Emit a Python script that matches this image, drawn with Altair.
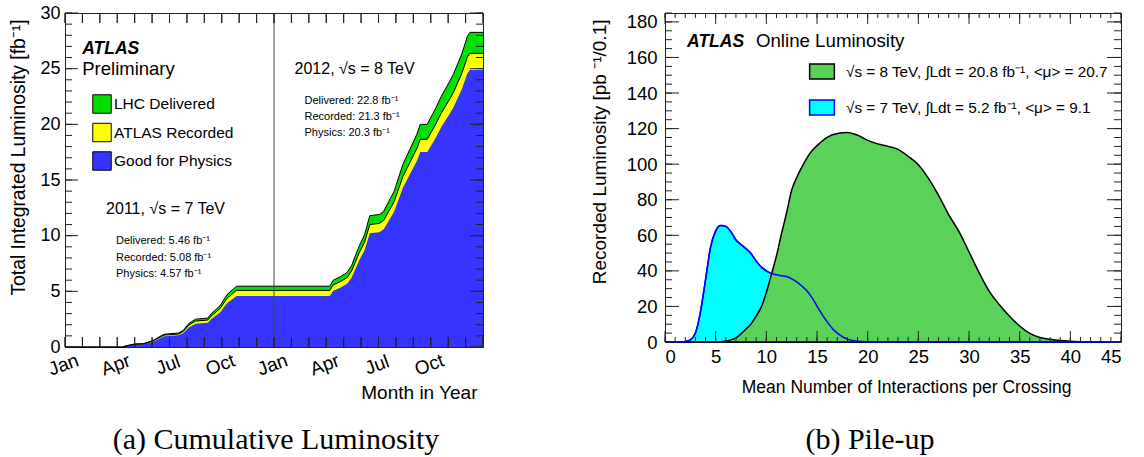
import altair as alt
import pandas as pd

# ---------------- (a) Cumulative luminosity ----------------
months = [0, 3.3, 3.5, 4.0, 4.5, 5.0, 5.4, 5.7, 6.5, 6.8, 7.1, 7.5, 8.2, 8.4, 8.9, 9.3, 9.85,
          15.2, 15.4, 15.8, 16.2, 16.45, 16.9, 17.2, 17.5, 18.05, 18.3, 18.6, 18.9, 19.4, 20.2,
          20.4, 20.8, 21.1, 21.3, 21.6, 22.1, 22.3, 22.8, 23.1, 23.25, 24.0]
delivered = [0, 0, 0.1, 0.27, 0.3, 0.55, 0.9, 1.15, 1.25, 1.5, 2.1, 2.5, 2.6, 3.0, 3.7, 4.7, 5.46,
             5.46, 6.0, 6.3, 6.7, 7.3, 9.1, 10.1, 11.8, 11.9, 12.2, 13.1, 14.0, 16.4, 19.1,
             20.0, 20.0, 20.9, 21.5, 22.5, 23.9, 24.5, 26.4, 27.9, 28.26, 28.26]
recorded = [0, 0, 0.09, 0.25, 0.28, 0.51, 0.84, 1.07, 1.16, 1.40, 1.95, 2.33, 2.42, 2.79, 3.44, 4.37, 5.08,
            5.08, 5.58, 5.86, 6.24, 6.80, 8.48, 9.41, 11.00, 11.10, 11.38, 12.22, 13.06, 15.30, 17.82,
            18.66, 18.66, 19.50, 20.06, 20.99, 22.30, 22.86, 24.64, 26.04, 26.38, 26.38]
physics = [0, 0, 0.08, 0.23, 0.25, 0.46, 0.75, 0.96, 1.05, 1.26, 1.76, 2.09, 2.18, 2.51, 3.10, 3.93, 4.57,
           4.57, 5.05, 5.32, 5.67, 6.21, 7.81, 8.70, 10.21, 10.30, 10.57, 11.37, 12.17, 14.31, 16.71,
           17.51, 17.51, 18.31, 18.85, 19.74, 20.99, 21.52, 23.21, 24.56, 24.87, 24.87]

series_names = ["LHC Delivered", "ATLAS Recorded", "Good for Physics"]
series_colors = ["#00e000", "#ffff00", "#3535ff"]

month_label_pos = [0, 3, 6, 9, 12, 15, 18, 21]
month_label_text = ["Jan", "Apr", "Jul", "Oct", "Jan", "Apr", "Jul", "Oct"]
month_ticks = list(range(0, 25))
lumi_major = list(range(0, 31, 5))
lumi_minor = list(range(0, 31))
year_boundary = [12]

# annotation texts (a): text, month, lumi
a_bold = [("ATLAS", 0.99, 26.3)]
a_big = [("Preliminary", 0.99, 24.4)]
a_mid = [("2012, √s = 8 TeV", 13.18, 24.55), ("2011, √s = 7 TeV", 2.36, 11.95)]
a_small = [("Delivered: 22.8 fb⁻¹", 13.75, 21.85), ("Recorded: 21.3 fb⁻¹", 13.75, 20.4),
           ("Physics: 20.3 fb⁻¹", 13.75, 18.95),
           ("Delivered: 5.46 fb⁻¹", 2.93, 9.23), ("Recorded: 5.08 fb⁻¹", 2.93, 7.73),
           ("Physics: 4.57 fb⁻¹", 2.93, 6.29)]

# ---------------- (b) Pile-up ----------------
mu_8 = [0, 1, 2, 3, 4, 5, 5.5, 6, 6.5, 7, 7.5, 8, 8.5, 9, 9.5, 10, 10.5, 11, 11.5, 12, 12.5, 13,
        13.5, 14, 14.5, 15, 16, 17, 18, 19, 20, 21, 22, 23, 24, 25, 26, 27, 28, 29, 30, 31, 32,
        33, 34, 35, 36, 37, 38, 39, 40, 41, 42, 43, 44, 45]
lumi_8 = [0, 0, 0, 0, 0, 0, 0.1, 0.5, 1.2, 2.3, 4.6, 7.3, 10.2, 14.6, 19.6, 27.8, 38.0, 48.5, 61.0,
          72.7, 85.3, 92.5, 98.3, 103.4, 107.5, 110.4, 115.1, 117.2, 117.8, 116.3, 113.4, 111.4,
          110.0, 108.3, 104.4, 99.7, 92.0, 82.5, 71.5, 62.2, 50.7, 39.0, 28.5, 21.0, 14.5, 9.0,
          4.8, 2.5, 1.5, 0.8, 0.4, 0.2, 0.1, 0, 0, 0]
mu_7 = [0, 1, 1.5, 2, 2.5, 3, 3.5, 4, 4.5, 5, 5.5, 6, 6.5, 7, 7.5, 8, 8.5, 9, 9.5, 10, 10.5, 11,
        11.5, 12, 12.5, 13, 13.5, 14, 14.5, 15, 15.5, 16, 16.5, 17, 17.5, 18, 18.5, 19, 20, 21, 45]
lumi_7 = [0, 0, 0, 0.3, 1.2, 5.0, 17.0, 35.0, 53.5, 62.5, 65.5, 65.0, 62.0, 57.4, 54.8, 52.5, 49.6,
          45.5, 42.2, 40.0, 38.5, 37.8, 37.3, 36.8, 35.5, 33.8, 31.5, 28.8, 25.0, 20.2, 15.5, 11.3,
          7.8, 5.0, 3.0, 1.6, 0.8, 0.4, 0.1, 0, 0]

beam_names = ["√s = 8 TeV, ∫Ldt = 20.8 fb⁻¹, <μ> = 20.7",
              "√s = 7 TeV, ∫Ldt = 5.2 fb⁻¹, <μ> =  9.1"]
beam_fill = ["#5ad25a", "#00ffff"]
beam_stroke = ["#000000", "#0000ff"]

mu_major = list(range(0, 46, 5))
mu_minor = list(range(0, 46))
rec_major = list(range(0, 181, 20))
rec_minor = list(range(0, 186, 5))

b_bold = [("ATLAS", 2.18, 166.0)]
b_big = [("Online Luminosity", 8.97, 166.0)]

captions = ["(a) Cumulative Luminosity", "(b) Pile-up"]

# ---------------- layout constants ----------------
W1, H1 = 418, 334
W2, H2 = 456, 329
GAP = 182          # distance between the two plot frames
FONT = "Liberation Sans"
TICK = "#222222"


def tick_layers(xvals_major, xvals_minor, yvals_major, yvals_minor, xs, ys, xa, ya, W, H,
                xlen_major, xlen_minor, ylen_major, ylen_minor):
    layers = []
    for vals, ln in ((xvals_major, xlen_major), (xvals_minor, xlen_minor)):
        d = pd.DataFrame({"v": vals})
        for y0, y1 in ((H, H - ln), (0, ln)):
            layers.append(alt.Chart(d).mark_rule(color=TICK, strokeWidth=1).encode(
                x=alt.X("v:Q", scale=xs, axis=xa), y=alt.value(y0), y2=alt.value(y1)))
    for vals, ln in ((yvals_major, ylen_major), (yvals_minor, ylen_minor)):
        d = pd.DataFrame({"v": vals})
        for x0, x1 in ((0, ln), (W, W - ln)):
            layers.append(alt.Chart(d).mark_rule(color=TICK, strokeWidth=1).encode(
                y=alt.Y("v:Q", scale=ys, axis=ya), x=alt.value(x0), x2=alt.value(x1)))
    return layers


def text_layer(items, xs, ys, xa, ya, size, weight="normal", style="normal", font=FONT):
    d = pd.DataFrame(items, columns=["t", "x", "y"])
    return alt.Chart(d).mark_text(align="left", baseline="alphabetic", fontSize=size,
                                  fontWeight=weight, fontStyle=style, font=font,
                                  color="black").encode(
        x=alt.X("x:Q", scale=xs, axis=xa), y=alt.Y("y:Q", scale=ys, axis=ya), text="t:N")


def caption_layer(text, cx, cy):
    d = pd.DataFrame({"t": [text]})
    return alt.Chart(d).mark_text(align="center", baseline="alphabetic", fontSize=30,
                                  font="Liberation Serif", color="black").encode(
        x=alt.value(cx), y=alt.value(cy), text="t:N")


# ---------------- panel (a) ----------------
rows = []
for name, vals in zip(series_names, [delivered, recorded, physics]):
    for m, v in zip(months, vals):
        rows.append({"month": m, "lumi": v, "series": name})
df_a = pd.DataFrame(rows)

xs_a = alt.Scale(domain=[0, 24], nice=False, zero=False)
ys_a = alt.Scale(domain=[0, 30], nice=False)

label_expr = "[" + ",".join("'%s'" % t for t in month_label_text) + "][round(datum.value / 3)]"

xa_a = alt.Axis(values=month_label_pos, labelExpr=label_expr, labelAngle=-20,
                labelAlign="center", labelBaseline="top", labelPadding=9, labelOffset=-5,
                ticks=False, domain=False, grid=False, labelFontSize=19,
                title="Month in Year", titleX=412, titleY=51, titleAlign="right",
                titleBaseline="alphabetic", titleFontSize=19, titleFontWeight="normal")
ya_a = alt.Axis(values=lumi_major, ticks=False, domain=False, grid=False, labelFontSize=18,
                labelPadding=5,
                title="Total Integrated Luminosity  [fb⁻¹]", titleX=-47, titleY=6,
                titleAlign="right", titleBaseline="middle", titleAngle=270,
                titleFontSize=19.3, titleFontWeight="normal")

color_a = alt.Color("series:N", scale=alt.Scale(domain=series_names, range=series_colors),
                    legend=alt.Legend(title=None, orient="none", legendX=27, legendY=81,
                                      symbolType="square", symbolSize=340,
                                      symbolStrokeColor="black", symbolStrokeWidth=1,
                                      symbolOpacity=1, labelFontSize=15.5, labelFont=FONT,
                                      rowPadding=4.5, labelOffset=2, padding=0))

areas_a = []
for name in series_names:
    areas_a.append(alt.Chart(df_a).transform_filter(alt.datum.series == name)
                   .mark_area(opacity=1, interpolate="linear").encode(
        x=alt.X("month:Q", scale=xs_a, axis=xa_a),
        y=alt.Y("lumi:Q", scale=ys_a, stack=None, axis=ya_a),
        color=color_a))

outline_a = alt.Chart(df_a).transform_filter(
    alt.FieldOneOfPredicate(field="series", oneOf=series_names[:2])
).mark_line(color="black", strokeWidth=1, interpolate="linear").encode(
    x=alt.X("month:Q", scale=xs_a, axis=xa_a),
    y=alt.Y("lumi:Q", scale=ys_a, axis=ya_a),
    detail="series:N")

vline_a = alt.Chart(pd.DataFrame({"v": year_boundary})).mark_rule(color="#444444", strokeWidth=1).encode(
    x=alt.X("v:Q", scale=xs_a, axis=xa_a), y=alt.value(0), y2=alt.value(H1))

ticks_a = tick_layers(month_ticks, month_ticks, lumi_major, lumi_minor, xs_a, ys_a, xa_a, ya_a,
                      W1, H1, 10, 10, 13, 7)

texts_a = [
    text_layer(a_bold, xs_a, ys_a, xa_a, ya_a, 17.5, weight="bold", style="italic"),
    text_layer(a_big, xs_a, ys_a, xa_a, ya_a, 18.5),
    text_layer(a_mid, xs_a, ys_a, xa_a, ya_a, 16),
    text_layer(a_small, xs_a, ys_a, xa_a, ya_a, 11),
]

panel_a = alt.layer(*areas_a, outline_a, vline_a, *ticks_a, *texts_a,
                    caption_layer(captions[0], 211, 436)).properties(width=W1, height=H1)

# ---------------- panel (b) ----------------
df_b = pd.concat([
    pd.DataFrame({"mu": mu_7, "rec": lumi_7, "beam": beam_names[1]}),
    pd.DataFrame({"mu": mu_8, "rec": lumi_8, "beam": beam_names[0]}),
])

xs_b = alt.Scale(domain=[0, 45], nice=False, zero=False)
ys_b = alt.Scale(domain=[0, 185], nice=False)

xa_b = alt.Axis(values=mu_major, ticks=False, domain=False, grid=False, labelFontSize=18.5,
                labelPadding=5, labelBaseline="top",
                title="Mean Number of Interactions per Crossing", titleX=406, titleY=50,
                titleAlign="right", titleBaseline="alphabetic", titleFontSize=17.5,
                titleFontWeight="normal")
ya_b = alt.Axis(values=rec_major, ticks=False, domain=False, grid=False, labelFontSize=18.5,
                labelPadding=8,
                title="Recorded Luminosity [pb ⁻¹/0.1]", titleX=-66, titleY=6,
                titleAlign="right", titleBaseline="middle", titleAngle=270,
                titleFontSize=19, titleFontWeight="normal")

# legends of a concatenated chart are placed from the first panel's origin
leg_b = alt.Legend(title=None, orient="none", legendX=148 + W1 + GAP, legendY=49.5,
                   symbolType="M-1.5,-0.9L1.5,-0.9L1.5,0.9L-1.5,0.9Z", symbolSize=272,
                   symbolStrokeWidth=1.5, symbolOpacity=1, labelFontSize=15.3, labelFont=FONT,
                   rowPadding=14, labelOffset=15, padding=0, labelLimit=400)
fill_b = alt.Fill("beam:N", scale=alt.Scale(domain=beam_names, range=beam_fill), legend=leg_b)
stroke_b = alt.Stroke("beam:N", scale=alt.Scale(domain=beam_names, range=beam_stroke), legend=leg_b)

area7 = alt.Chart(df_b).transform_filter(alt.datum.beam == beam_names[1]).mark_area(
    opacity=1, interpolate="monotone", strokeWidth=1.5).encode(
    x=alt.X("mu:Q", scale=xs_b, axis=xa_b),
    y=alt.Y("rec:Q", scale=ys_b, stack=None, axis=ya_b),
    fill=fill_b, stroke=stroke_b)
area8 = alt.Chart(df_b).transform_filter(alt.datum.beam == beam_names[0]).mark_area(
    opacity=1, interpolate="monotone", strokeWidth=1.5).encode(
    x=alt.X("mu:Q", scale=xs_b, axis=xa_b),
    y=alt.Y("rec:Q", scale=ys_b, stack=None, axis=ya_b),
    fill=fill_b, stroke=stroke_b)
line7 = alt.Chart(df_b).transform_filter(alt.datum.beam == beam_names[1]).mark_line(
    color="#0000ff", strokeWidth=1.5, interpolate="monotone").encode(
    x=alt.X("mu:Q", scale=xs_b, axis=xa_b),
    y=alt.Y("rec:Q", scale=ys_b, axis=ya_b))

ticks_b = tick_layers(mu_major, mu_minor, rec_major, rec_minor, xs_b, ys_b, xa_b, ya_b, W2, H2,
                      11, 5, 14, 7)
texts_b = [
    text_layer(b_bold, xs_b, ys_b, xa_b, ya_b, 17.5, weight="bold", style="italic"),
    text_layer(b_big, xs_b, ys_b, xa_b, ya_b, 18.7),
]

panel_b = alt.layer(area7, area8, line7, *ticks_b, *texts_b,
                    caption_layer(captions[1], 205, 436)).properties(width=W2, height=H2)

chart = alt.hconcat(panel_a, panel_b, spacing=GAP, bounds="flush").properties(
    padding={"left": 8, "top": 3, "right": 0, "bottom": 0}, background="white"
).configure_view(stroke="#222222", strokeWidth=1).configure_axis(
    labelFont=FONT, titleFont=FONT, labelColor="black", titleColor="black"
)

chart.save("out.html", embed_options={"renderer": "svg", "actions": False})
